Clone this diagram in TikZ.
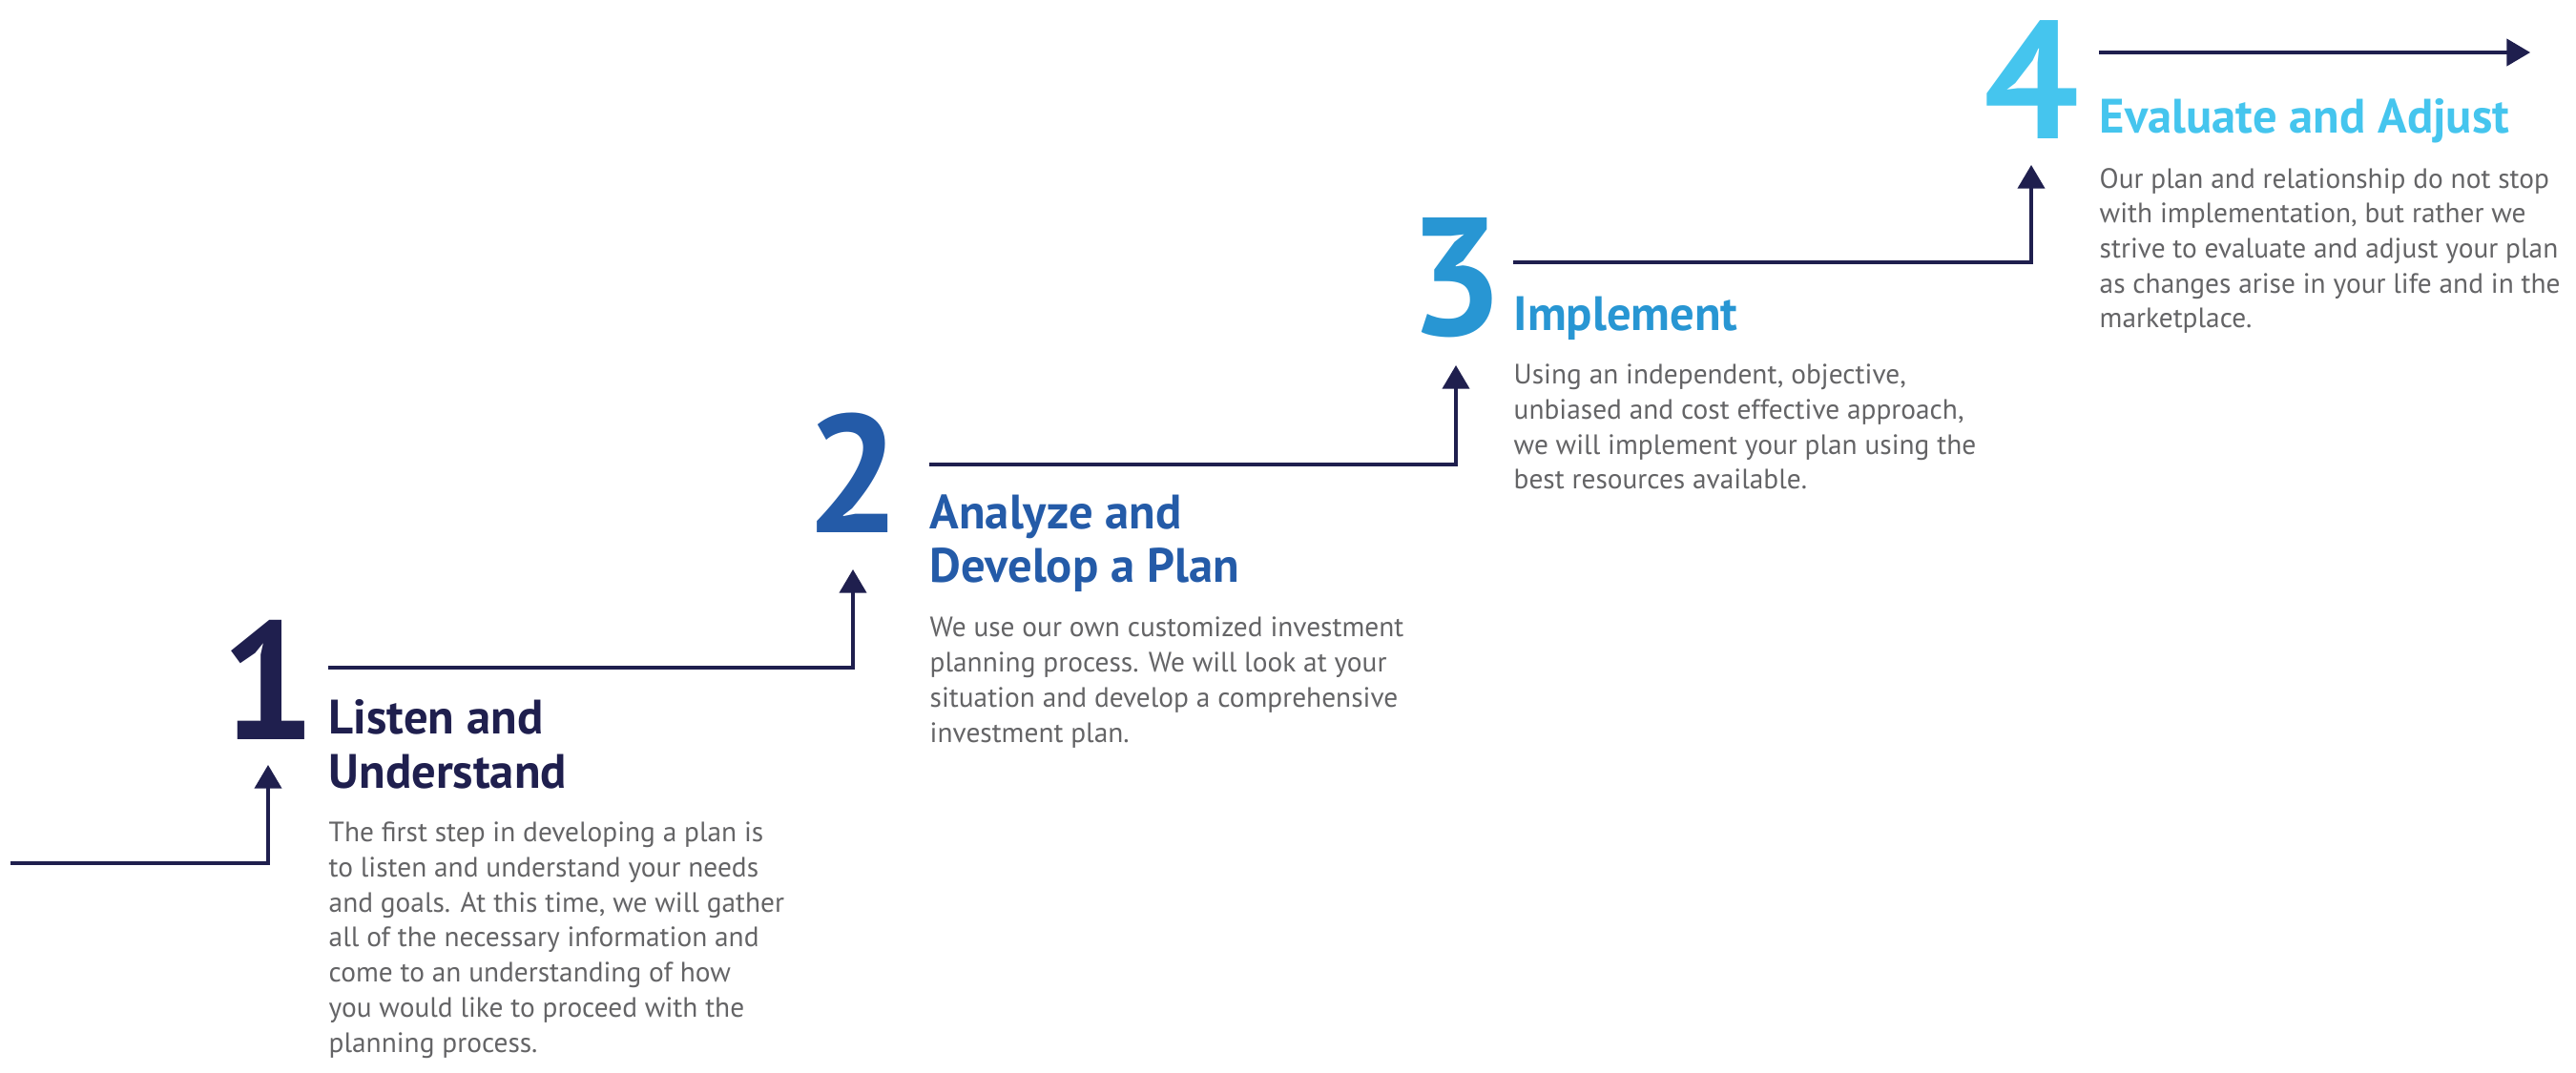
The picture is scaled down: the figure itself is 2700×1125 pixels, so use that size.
\documentclass[tikz,border=0pt]{standalone}
\usepackage{fontspec}
\setmainfont{PT Sans}
\usetikzlibrary{arrows.meta}

\definecolor{navy}{HTML}{1F1F4E}
\definecolor{stepone}{HTML}{1F1F4E}
\definecolor{steptwo}{HTML}{245BA8}
\definecolor{stepthree}{HTML}{2896D3}
\definecolor{stepfour}{HTML}{45C5EE}
\definecolor{bodygray}{HTML}{646466}

\tikzset{
  num/.style={font=\fontsize{50}{50}\selectfont\bfseries, inner sep=0pt, anchor=base},
  ttl/.style={font=\fontsize{14.4}{16.2}\selectfont\bfseries, align=left, inner sep=0pt, anchor=base west},
  txt/.style={font=\fontsize{8.35}{10.44}\selectfont, text=bodygray, align=left, inner sep=0pt, anchor=base west},
  flow/.style={draw=navy, line width=1pt, -{Triangle[width=8pt,length=7pt]}},
}

\begin{document}
\begin{tikzpicture}[x=0.01cm,y=-0.01cm]
  \useasboundingbox (0,0) rectangle (2700,1125);

  % where the connectors start and stop
  \coordinate (in) at (11,905);
  \foreach \n/\x/\y in {1/344/700, 2/974/487, 3/1586/275, 4/2200/55}
    \coordinate (s\n) at (\x,\y);
  \foreach \n/\x/\y in {1/281/802, 2/894/597, 3/1526/383, 4/2129/173}
    \coordinate (t\n) at (\x,\y);
  \coordinate (out) at (2652,55);

  % big step numbers, centred over the arrow tips
  \foreach \n/\col/\y in {1/stepone/775, 2/steptwo/559, 3/stepthree/352, 4/stepfour/146}
    \node[num, text=\col] (d\n) at (t\n |- 0,\y) {\n};

  % the stairs
  \draw[flow] (in) -| (t1);
  \draw[flow] (s1) -| (t2);
  \draw[flow] (s2) -| (t3);
  \draw[flow] (s3) -| (t4);
  \draw[flow] (s4) -- (out);

  % titles (anchored on their last line)
  \node[ttl, text=stepone] (h1) at (344,826) {Listen and\\Understand};
  \node[ttl, text=steptwo] (h2) at (974,611) {Analyze and\\Develop a Plan};
  \node[ttl, text=stepthree] (h3) at (1586,347) {Implement};
  \node[ttl, text=stepfour] (h4) at (2200,140) {Evaluate and Adjust};

  % descriptions (anchored on their last line)
  \node[txt] (b1) at (344,1103) {The first step in developing a plan is\\to listen and understand your needs\\and goals. At this time, we will gather\\all of the necessary information and\\come to an understanding of how\\you would like to proceed with the\\planning process.};
  \node[txt] (b2) at (974,778) {We use our own customized investment\\planning process. We will look at your\\situation and develop a comprehensive\\investment plan.};
  \node[txt] (b3) at (1586,513) {Using an independent, objective,\\unbiased and cost effective approach,\\we will implement your plan using the\\best resources available.};
  \node[txt] (b4) at (2200,344) {Our plan and relationship do not stop\\with implementation, but rather we\\strive to evaluate and adjust your plan\\as changes arise in your life and in the\\marketplace.};
\end{tikzpicture}
\end{document}
